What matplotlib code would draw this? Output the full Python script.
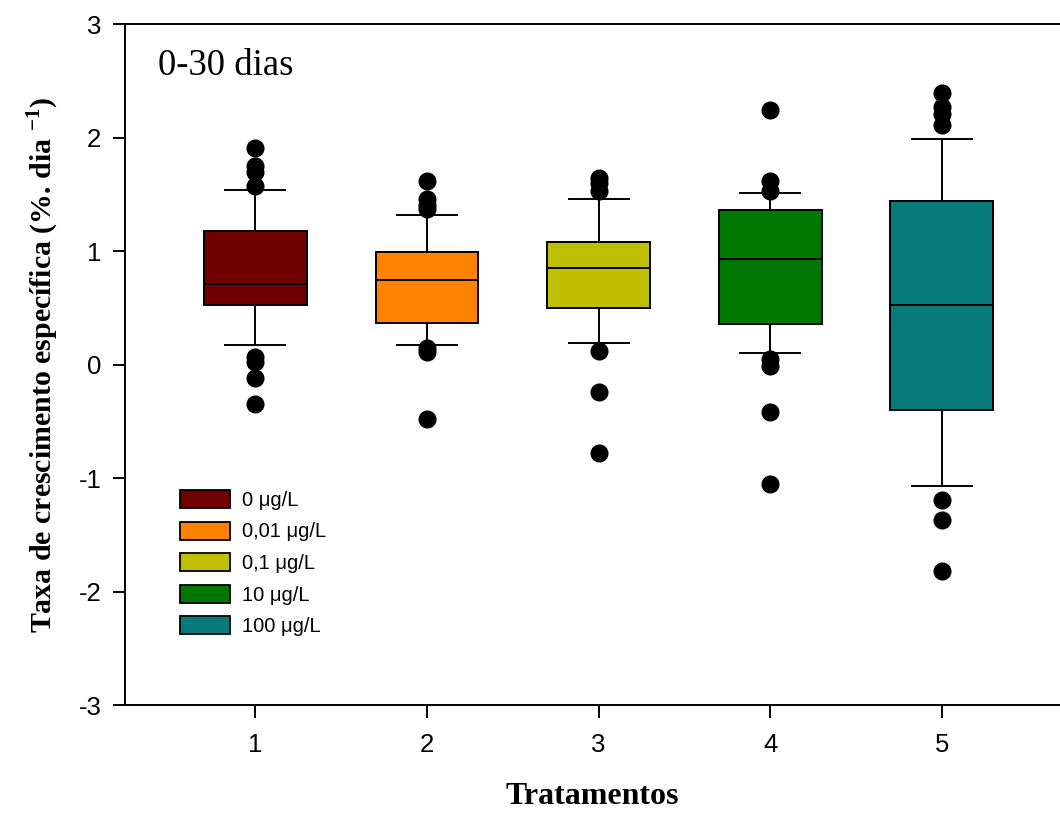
import matplotlib
matplotlib.use("Agg")
import matplotlib.pyplot as plt
from matplotlib.patches import Patch

plt.rcParams["axes.unicode_minus"] = False
plt.rcParams["mathtext.fontset"] = "custom"
plt.rcParams["mathtext.rm"] = "Liberation Serif"
plt.rcParams["mathtext.bf"] = "Liberation Serif:bold"

# growth-rate summary per treatment (0-30 days)
tratamentos = [1, 2, 3, 4, 5]
doses = ["0 μg/L", "0,01 μg/L", "0,1 μg/L", "10 μg/L", "100 μg/L"]
cores = ["#730000", "#FF8200", "#BFBF00", "#007800", "#077B7B"]

q1 = [0.53, 0.37, 0.50, 0.36, -0.40]
mediana = [0.71, 0.75, 0.85, 0.93, 0.53]
q3 = [1.18, 0.99, 1.08, 1.36, 1.44]
whislo = [0.17, 0.17, 0.19, 0.10, -1.07]
whishi = [1.54, 1.32, 1.46, 1.51, 1.99]
outliers = [
    [1.91, 1.75, 1.70, 1.58, 0.07, 0.02, -0.12, -0.35],
    [1.62, 1.46, 1.41, 1.37, 0.15, 0.11, -0.48],
    [1.65, 1.60, 1.53, 0.12, -0.24, -0.78],
    [2.25, 1.62, 1.53, 0.05, -0.01, -0.42, -1.05],
    [2.40, 2.27, 2.21, 2.11, -1.19, -1.37, -1.82],
]

stats = []
for i in range(len(tratamentos)):
    stats.append(dict(med=mediana[i], q1=q1[i], q3=q3[i],
                      whislo=whislo[i], whishi=whishi[i], fliers=outliers[i]))

serif = "Liberation Serif"
sans = "Liberation Sans"

fig = plt.figure(figsize=(10.6, 8.16), dpi=100)
ax = fig.add_axes([0.118, 0.136, 0.882, 0.834])

bp = ax.bxp(stats, positions=tratamentos, widths=0.6, patch_artist=True,
            boxprops=dict(edgecolor="black", linewidth=1.4),
            medianprops=dict(color="black", linewidth=1.4),
            whiskerprops=dict(color="black", linewidth=1.4),
            capprops=dict(color="black", linewidth=1.4),
            capwidths=0.35,
            flierprops=dict(marker="o", markerfacecolor="black",
                            markeredgecolor="black", markersize=12))
for patch, c in zip(bp["boxes"], cores):
    patch.set_facecolor(c)

ax.set_xlim(0.24, 5.69)
ax.set_ylim(-3, 3)
ax.set_yticks([-3, -2, -1, 0, 1, 2, 3])
ax.set_xticks(tratamentos)
ax.spines["right"].set_visible(False)
for s in ("left", "bottom", "top"):
    ax.spines[s].set_linewidth(1.4)
ax.tick_params(direction="out", length=9, width=1.4, labelsize=18.5)
ax.tick_params(axis="y", pad=8)
ax.tick_params(axis="x", pad=11)
for lab in ax.get_xticklabels() + ax.get_yticklabels():
    lab.set_fontfamily(sans)

ax.text(0.035, 0.94, "0-30 dias", transform=ax.transAxes, fontsize=26.5,
        family=serif, va="center", ha="left")

ax.set_ylabel(r"Taxa de crescimento específica (%. dia $^{\mathbf{-1}}$)",
              fontsize=21.5, family=serif, fontweight="bold", labelpad=13)
ax.set_xlabel("Tratamentos", fontsize=23, family=serif, fontweight="bold",
              labelpad=18)

handles = [Patch(facecolor=c, edgecolor="black", linewidth=1.3) for c in cores]
leg = ax.legend(handles, doses, loc="upper left", bbox_to_anchor=(0.059, 0.316),
                borderaxespad=0, borderpad=0,
                frameon=False, prop=dict(family=sans, size=14.5),
                handlelength=2.45, handleheight=1.0, labelspacing=0.58,
                handletextpad=0.6)

fig.savefig("out.png", dpi=100)
